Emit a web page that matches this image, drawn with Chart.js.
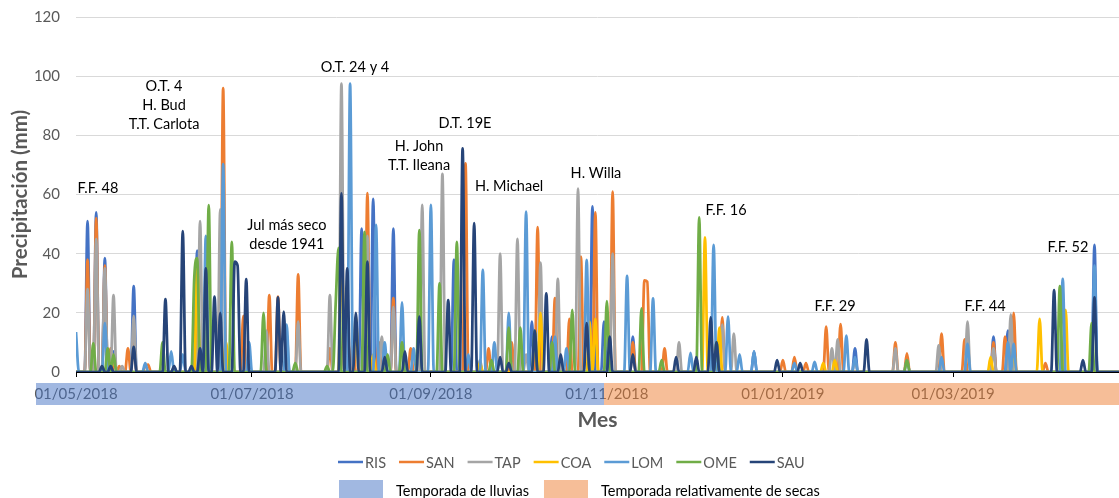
<!DOCTYPE html>
<html>
<head>
<meta charset="utf-8">
<script src="https://cdn.jsdelivr.net/npm/chart.js@4.4.0/dist/chart.umd.min.js"></script>
<style>
  html, body { margin: 0; padding: 0; background: #fff; }
  #wrap { width: 1119px; height: 498px; position: relative; }
</style>
</head>
<body>
<div id="wrap"><canvas id="precipChart"></canvas></div>
<script>
// Precipitación diaria por estación, día 0 = 01/05/2018
const dayCount = 365;
const tickDays = [0, 61, 123, 184, 245, 304];
const tickLabels = ['01/05/2018', '01/07/2018', '01/09/2018', '01/11/2018', '01/01/2019', '01/03/2019'];
const stations = ['RIS', 'SAN', 'TAP', 'COA', 'LOM', 'OME', 'SAU'];
const seasons = ['Temporada de lluvias', 'Temporada relativamente de secas'];
const rainySeasonEnd = 183; // último día de lluvias (31/10/2018)

// días con lluvia [día, mm]; el resto del año es 0
const risRain = [[4,51],[7,54],[10,38.5],[13,7],[20,29],[42,41],[99,48.5],[103,58.5],[110,48.5],[131,38],[158,17],[165,12],[179,56],[183,17],[193,12],[235,7],[270,8],[318,12],[323,14],[353,43]];
const sanRain = [[4,38],[7,52],[10,36],[12,8],[15,2],[18,8],[20,10.5],[24,2],[25,2.5],[42,30],[51,96],[58,19],[67,26],[70,25.5],[77,33],[88,8],[96,10],[101,60.5],[105,10],[110,25],[116,8],[135,70.5],[143,8],[151,10],[160,49],[166,25],[171,18],[175,39],[180,54],[186,61],[193,10],[197,31],[198,30.5],[204,8],[224,18.5],[245,4],[249,5],[253,3],[260,15.3],[265,16.2],[284,10],[288,6.3],[300,13],[308,11],[318,10],[322,12],[325,20],[336,3]];
const tapRain = [[4,28],[7,45],[10,35],[13,26],[16,2],[20,19],[43,51],[50,55],[66,14],[73,13],[77,17],[88,26],[92,97.5],[101,46],[106,12],[110,22],[120,56.5],[127,67],[140,4],[147,40],[153,45],[156,6],[161,37],[167,31.5],[174,62],[186,40],[209,10],[224,16],[228,13],[262,8],[264,11],[270,4],[284,8],[299,9],[309,17],[318,8],[324,19.5]];
const coaRain = [[42,36],[52,10],[92,50],[97,18.7],[103,6],[140,3],[161,20],[178,17],[180,18],[218,45.5],[223,15],[259,3],[263,4],[317,5],[325,8],[334,18],[343,21]];
const lomRain = [[0,13.5],[10,16.5],[24,3],[33,7],[37,6],[45,46],[51,70.3],[60,10],[73,16],[95,97.5],[104,49.7],[107,10],[113,23.5],[117,8],[123,56.5],[136,6],[141,34.5],[145,10],[150,20],[156,54.2],[166,12],[170,8],[177,37.9],[191,32.5],[200,24.9],[213,6.5],[221,43],[226,18.7],[230,6],[235,7],[249,3],[256,3.4],[267,12.3],[270,5],[288,4],[300,5],[309,9.5],[323,10],[325,9.5],[342,31.5],[353,36]];
const omeRain = [[6,9.7],[11,8],[13,6],[30,10],[41,32],[42,38.5],[46,56.4],[54,44],[65,20],[76,3],[87,2],[90,23],[91,42],[100,47.4],[108,6],[113,10],[119,48],[126,30],[132,44],[144,4],[150,15],[154,15],[159,14],[165,10],[172,21],[184,24],[196,21.5],[203,4],[216,52.3],[222,10],[288,4],[341,29],[352,16.5]];
const sauRain = [[9,2],[12,2],[20,8.5],[31,24.6],[34,2],[37,47.6],[40,2],[43,8],[45,35],[48,25.5],[50,20],[55,37.3],[56,36],[59,31.4],[70,25.2],[72,20.4],[92,60.4],[94,35],[97,20],[101,37.3],[107,5],[114,7],[119,18.7],[129,24.3],[134,75.6],[138,50.3],[147,5],[150,3],[159,14],[163,26.6],[168,6],[177,16.5],[185,12],[193,6],[208,5],[215,5],[220,18.5],[222,10],[243,4],[251,3],[274,11],[339,27.7],[349,4],[353,25.2]];

// eventos anotados: texto + día/mm donde va el centro de la primera línea
const notes = [
  { lines: ['F.F. 48'], day: 7.6, mm: 62.2 },
  { lines: ['O.T. 4', 'H. Bud', 'T.T. Carlota'], day: 30.5, mm: 96.4 },
  { lines: ['Jul más seco', 'desde 1941'], day: 73.1, mm: 49.7 },
  { lines: ['O.T. 24 y 4'], day: 96.7, mm: 103.1 },
  { lines: ['H. John', 'T.T. Ileana'], day: 118.9, mm: 76.4 },
  { lines: ['D.T. 19E'], day: 134.8, mm: 84.2 },
  { lines: ['H. Michael'], day: 150.1, mm: 62.9 },
  { lines: ['H. Willa'], day: 180.2, mm: 67.3 },
  { lines: ['F.F. 16'], day: 225.3, mm: 54.8 },
  { lines: ['F.F. 29'], day: 263.1, mm: 22.3 },
  { lines: ['F.F. 44'], day: 315.1, mm: 22.3 },
  { lines: ['F.F. 52'], day: 343.8, mm: 42.3 }
];

const colors = ['#4472C4', '#ED7D31', '#A5A5A5', '#FFC000', '#5B9BD5', '#70AD47', '#264478'];
const seasonColors = ['#4472C4', '#ED7D31'];
const FONT = 'Lato, "Noto Sans", sans-serif';

function daily(rain) {
  const arr = new Array(dayCount).fill(0);
  rain.forEach(([d, v]) => { arr[d] = v; });
  return arr;
}

const days = Array.from({ length: dayCount }, (_, i) => i);
const allRain = [risRain, sanRain, tapRain, coaRain, lomRain, omeRain, sauRain];

const datasets = stations.map((name, i) => ({
  label: name,
  data: daily(allRain[i]),
  borderColor: colors[i],
  backgroundColor: colors[i],
  borderWidth: 2.75,
  pointRadius: 0,
  cubicInterpolationMode: 'monotone',
  order: stations.length - i
}));

// bandas de temporada, leyendas y notas
const extrasPlugin = {
  id: 'extras',
  afterDraw(chart) {
    const { ctx, chartArea, scales } = chart;
    const x = scales.x, y = scales.y;
    ctx.save();

    // banda de temporadas bajo el eje (semitransparente sobre las fechas)
    const bandTop = chartArea.bottom + 11, bandH = 22;
    const split = x.getPixelForValue(rainySeasonEnd);
    ctx.globalAlpha = 0.5;
    ctx.fillStyle = seasonColors[0];
    ctx.fillRect(chartArea.left - 40, bandTop, split - (chartArea.left - 40), bandH);
    ctx.fillStyle = seasonColors[1];
    ctx.fillRect(split, bandTop, chart.width - split, bandH);
    ctx.globalAlpha = 1;

    // notas
    ctx.font = '14.5px ' + FONT;
    ctx.fillStyle = '#000';
    ctx.textAlign = 'center';
    ctx.textBaseline = 'middle';
    notes.forEach(n => {
      const px = x.getPixelForValue(n.day);
      const py = y.getPixelForValue(n.mm);
      n.lines.forEach((t, k) => ctx.fillText(t, px, py + k * 19));
    });

    // leyenda de estaciones
    ctx.textAlign = 'left';
    ctx.fillStyle = '#595959';
    let lx = 338;
    const ly = 462;
    stations.forEach((name, i) => {
      ctx.strokeStyle = colors[i];
      ctx.lineWidth = 2.5;
      ctx.beginPath();
      ctx.moveTo(lx, ly);
      ctx.lineTo(lx + 25, ly);
      ctx.stroke();
      ctx.fillText(name, lx + 27, ly + 1);
      lx += 27 + ctx.measureText(name).width + 13;
    });

    // leyenda de temporadas
    let sx = 339;
    const sy = 480;
    seasons.forEach((name, i) => {
      ctx.globalAlpha = 0.5;
      ctx.fillStyle = seasonColors[i];
      ctx.fillRect(sx, sy, 44, 22);
      ctx.globalAlpha = 1;
      ctx.fillStyle = '#000';
      ctx.fillText(name, sx + 57, sy + 11);
      sx += 57 + ctx.measureText(name).width + 15;
    });

    ctx.restore();
  }
};

Chart.defaults.font.family = FONT;
Chart.defaults.color = '#595959';

new Chart(document.getElementById('precipChart'), {
  type: 'line',
  data: { labels: days, datasets },
  options: {
    responsive: true,
    maintainAspectRatio: false,
    animation: false,
    layout: { padding: { top: 17, right: 0, bottom: 62, left: 0 } },
    plugins: {
      legend: { display: false },
      tooltip: { enabled: false }
    },
    scales: {
      x: {
        type: 'linear',
        min: 0,
        max: 361.5,
        afterBuildTicks: s => { s.ticks = tickDays.map(v => ({ value: v })); },
        afterFit: s => { s.height = 64; s.paddingLeft = 0; s.paddingRight = 0; },
        ticks: {
          autoSkip: false,
          maxRotation: 0,
          padding: 8,
          color: '#595959',
          font: { size: 15 },
          callback: v => tickLabels[tickDays.indexOf(v)] ?? ''
        },
        grid: { drawOnChartArea: false, drawTicks: true, tickLength: 5, tickColor: '#000', color: '#000' },
        border: { color: '#000', width: 1 },
        title: {
          display: true,
          text: 'Mes',
          color: '#595959',
          font: { size: 21, weight: 'bold' },
          padding: { top: 0, bottom: 3 }
        }
      },
      y: {
        min: 0,
        max: 120,
        afterFit: s => { s.width = 76; s.paddingTop = 0; s.paddingBottom = 0; },
        ticks: { stepSize: 20, padding: 16, color: '#595959', font: { size: 15 } },
        grid: { color: '#d9d9d9', drawTicks: false },
        border: { display: false },
        title: {
          display: true,
          text: 'Precipitación (mm)',
          color: '#595959',
          font: { size: 20.5, weight: 'bold' },
          padding: { top: 8, bottom: 0 }
        }
      }
    }
  },
  plugins: [extrasPlugin]
});
</script>
</body>
</html>
